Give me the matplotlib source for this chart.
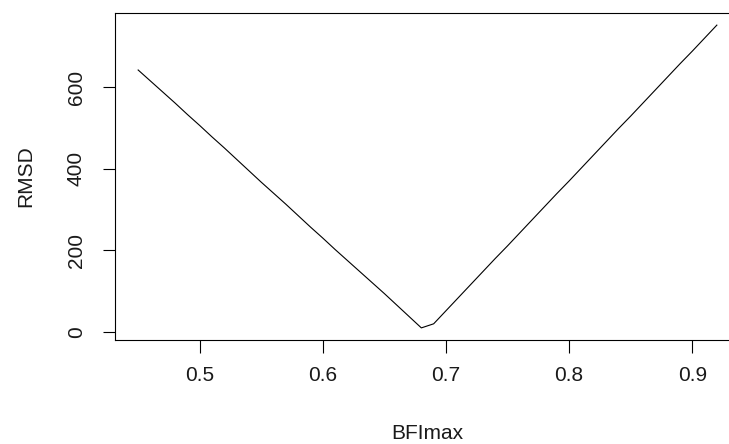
import matplotlib
matplotlib.use("Agg")
import matplotlib.pyplot as plt

bfimax = [0.45, 0.46, 0.47, 0.48, 0.49, 0.50, 0.51, 0.52, 0.53, 0.54, 0.55, 0.56,
          0.57, 0.58, 0.59, 0.60, 0.61, 0.62, 0.63, 0.64, 0.65, 0.66, 0.67, 0.68,
          0.69, 0.70, 0.71, 0.72, 0.73, 0.74, 0.75, 0.76, 0.77, 0.78, 0.79, 0.80,
          0.81, 0.82, 0.83, 0.84, 0.85, 0.86, 0.87, 0.88, 0.89, 0.90, 0.91, 0.92]
rmsd = [642, 615, 588, 561, 533, 506, 478, 451, 423, 395, 367, 340,
        313, 285, 257, 230, 202, 175, 148, 121, 94, 66, 38, 10,
        20, 52, 84, 116, 148, 180, 211, 243, 275, 307, 339, 370,
        402, 434, 466, 498, 529, 561, 593, 625, 657, 688, 720, 752]
xticks = [0.5, 0.6, 0.7, 0.8, 0.9]
yticks = [0, 200, 400, 600]

plt.rcParams['font.family'] = ['Liberation Sans', 'DejaVu Sans']

W, H = 729, 444
fig = plt.figure(figsize=(W / 100, H / 100), dpi=100)
left, right, top, bottom = 115, 740, 13, 340
ax = fig.add_axes([left / W, (H - bottom) / H, (right - left) / W, (bottom - top) / H])

ax.plot(bfimax, rmsd, color='black', linewidth=0.8)

xr = max(bfimax) - min(bfimax)
yr = max(rmsd) - min(rmsd)
ax.set_xlim(min(bfimax) - 0.04 * xr, max(bfimax) + 0.04 * xr)
ax.set_ylim(min(rmsd) - 0.04 * yr, max(rmsd) + 0.04 * yr)

ax.set_xticks(xticks)
ax.set_xticklabels([f"{v:.1f}" for v in xticks])
ax.set_yticks(yticks)
ax.set_yticklabels([str(v) for v in yticks], rotation=90, va='center')

ax.tick_params(axis='both', length=9, width=0.8, color='black',
               labelsize=15, labelcolor='#1a1a1a')
ax.tick_params(axis='x', pad=10)
ax.tick_params(axis='y', pad=12)
for s in ax.spines.values():
    s.set_linewidth(0.8)
    s.set_color('black')

fig.text(427 / W, 1 - 439 / H, "BFImax", ha='center', va='baseline', fontsize=15,
         color='#1a1a1a', rotation_mode='anchor')
fig.text(31 / W, 1 - 176 / H, "RMSD", ha='center', va='baseline', rotation=90,
         fontsize=15, color='#1a1a1a', rotation_mode='anchor')

fig.savefig("out.png", dpi=100, facecolor='white')
